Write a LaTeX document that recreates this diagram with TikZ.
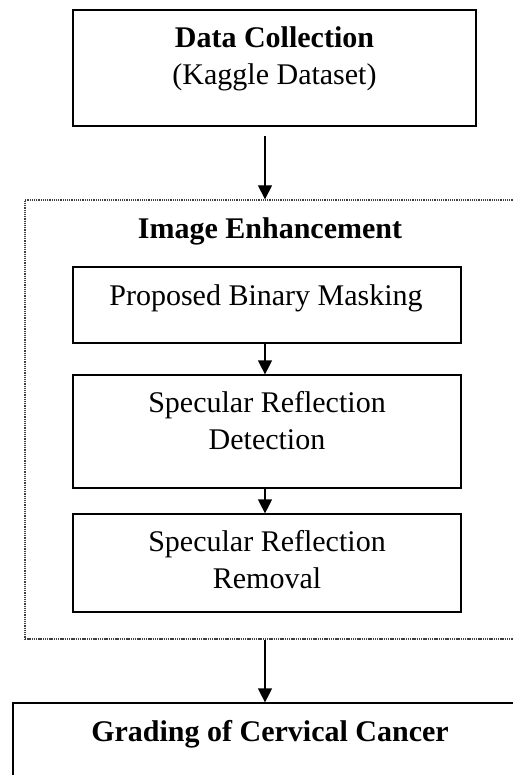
\documentclass[tikz,border=0pt]{standalone}
\usepackage{fontspec}
\setmainfont{Liberation Serif}
\usetikzlibrary{arrows.meta}
\begin{document}
\begin{tikzpicture}[x=1pt,y=-1pt,
  box/.style={draw, line width=1.2pt, rectangle, inner sep=0pt},
  enhbox/.style={draw=black!75, line width=1.3pt, dash pattern=on 1.3pt off 0.9pt, rectangle, inner sep=0pt},
  txt/.style={anchor=base, inner sep=0pt, font=\fontsize{30}{37}\selectfont},
  arr/.style={line width=1.2pt, -{Triangle[width=14pt,length=14pt]}}]
\useasboundingbox (0,0) rectangle (512,775);
% boxes
\node[box, minimum width=403pt, minimum height=116pt] (dc) at (274.5,68) {};
\node[enhbox, minimum width=505pt, minimum height=439pt] (enh) at (277.5,419.5) {};
\node[box, minimum width=388pt, minimum height=76pt] (pbm) at (267,305) {};
\node[box, minimum width=388pt, minimum height=113pt] (srd) at (267,431.5) {};
\node[box, minimum width=388pt, minimum height=98pt] (srr) at (267,563) {};
\node[box, minimum width=514pt, minimum height=140pt] (gcc) at (270,773) {};
% texts
\node[txt] (t1) at (274.5,47.7) {\bfseries Data Collection};
\node[txt] (t2) at (274.5,85) {(Kaggle Dataset)};
\node[txt] (t3) at (270,239) {\bfseries Image Enhancement};
\node[txt] (t4) at (266,305) {Proposed Binary Masking};
\node[txt] (t5) at (267,412.7) {Specular Reflection};
\node[txt] (t6) at (267,449.3) {Detection};
\node[txt] (t7) at (267,551.7) {Specular Reflection};
\node[txt] (t8) at (267,588.3) {Removal};
\node[txt] (t9) at (270,741.7) {\bfseries Grading of Cervical Cancer};
% connectors
\coordinate (ax) at (265,0);
\draw[arr, shorten <=9pt] (dc.south -| ax) -- (enh.north -| ax);
\draw[arr] (pbm.south -| ax) -- (srd.north -| ax);
\draw[arr] (srd.south -| ax) -- (srr.north -| ax);
\draw[arr] (enh.south -| ax) -- (gcc.north -| ax);
\end{tikzpicture}
\end{document}
